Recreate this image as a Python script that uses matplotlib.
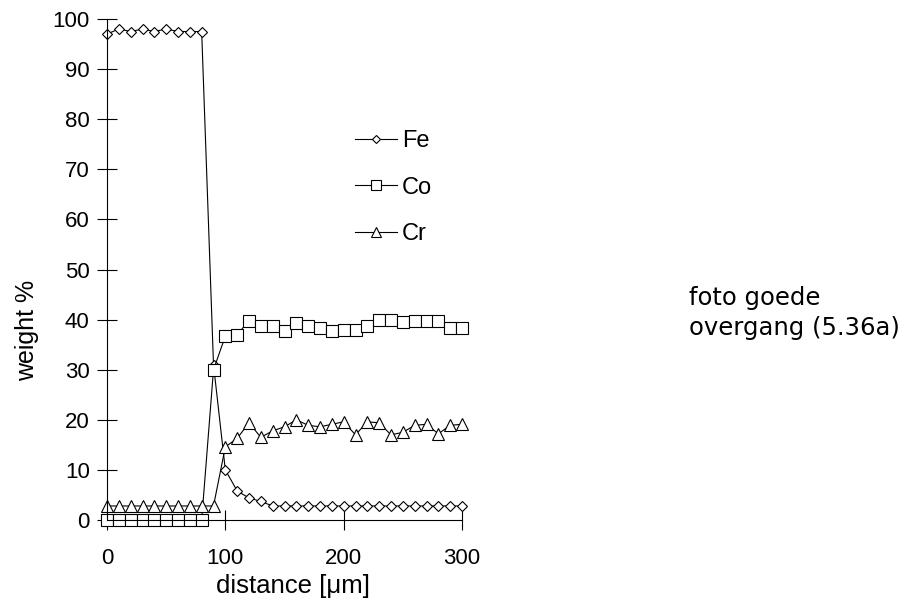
import matplotlib
matplotlib.use("Agg")
import matplotlib.pyplot as plt
import numpy as np

plt.rcParams["font.family"] = ["Liberation Sans", "DejaVu Sans"]

# EDX line scan across the Fe / Co-Cr interface
distance = list(range(0, 301, 10))

fe = [97, 98, 97.5, 98, 97.5, 98, 97.5, 97.5, 97.5, 31,
      10, 5.8, 4.4, 3.7, 2.8, 2.8, 2.8, 2.8, 2.8, 2.8,
      2.8, 2.8, 2.8, 2.8, 2.8, 2.8, 2.8, 2.8, 2.8, 2.8, 2.8]

co = [0, 0, 0, 0, 0, 0, 0, 0, 0, 30,
      36.7, 37.0, 39.8, 38.8, 38.8, 37.7, 39.4, 38.8, 38.4, 37.8,
      37.9, 37.9, 38.8, 39.9, 39.9, 39.5, 39.8, 39.8, 39.8, 38.4, 38.4]

cr = [2.8, 2.8, 2.8, 2.8, 2.8, 2.8, 2.8, 2.8, 2.8, 2.8,
      14.6, 16.3, 19.4, 16.5, 17.8, 18.6, 20.0, 18.9, 18.6, 19.1,
      19.6, 17.0, 19.6, 19.4, 17.0, 17.5, 18.9, 19.1, 17.2, 18.9, 19.1]

series = [("Fe", fe, "D", 5.6), ("Co", co, "s", 8.3), ("Cr", cr, "^", 8.3)]

x_ticks = [0, 100, 200, 300]
y_ticks = list(range(0, 101, 10))

fig = plt.figure(figsize=(9.13, 6.06), dpi=100)
ax = fig.add_axes([107 / 913, 1 - 520 / 606, 355 / 913, 501 / 606])

handles = []
for name, vals, mk, ms in series:
    h, = ax.plot(distance, vals, color="black", lw=0.8, marker=mk,
                 markersize=ms, markerfacecolor="white",
                 markeredgecolor="black", markeredgewidth=0.8,
                 clip_on=False, label=name)
    handles.append(h)

ax.set_xlim(0, 300)
ax.set_ylim(0, 100)
ax.set_xticks(x_ticks)
ax.set_yticks(y_ticks)

for side in ("top", "right"):
    ax.spines[side].set_visible(False)
for side in ("left", "bottom"):
    ax.spines[side].set_linewidth(0.8)

ax.tick_params(axis="both", direction="inout", length=15, width=0.8,
               labelsize=16)
ax.tick_params(axis="x", pad=13)
ax.tick_params(axis="y", pad=5)

ax.set_xlabel("distance [\u03bcm]", fontsize=18.5)
ax.xaxis.set_label_coords(293 / 913, 1 - 574 / 606, transform=fig.transFigure)
ax.set_ylabel("weight %", fontsize=18)
ax.yaxis.set_label_coords(39 / 913, 1 - 330 / 606, transform=fig.transFigure)

leg = ax.legend(handles=handles, loc="upper left",
                bbox_to_anchor=(343 / 913, 1 - 118 / 606),
                bbox_transform=fig.transFigure, frameon=False,
                fontsize=17, handlelength=1.8, handletextpad=0.2,
                labelspacing=1.05, borderpad=0, markerscale=0.8)

fig.text(689 / 913, 1 - 313 / 606, "foto goede\novergang (5.36a)",
         fontsize=17.5, ha="left", va="center", linespacing=1.35,
         family=["DejaVu Sans"])

fig.savefig("out.png", dpi=100, facecolor="white")
